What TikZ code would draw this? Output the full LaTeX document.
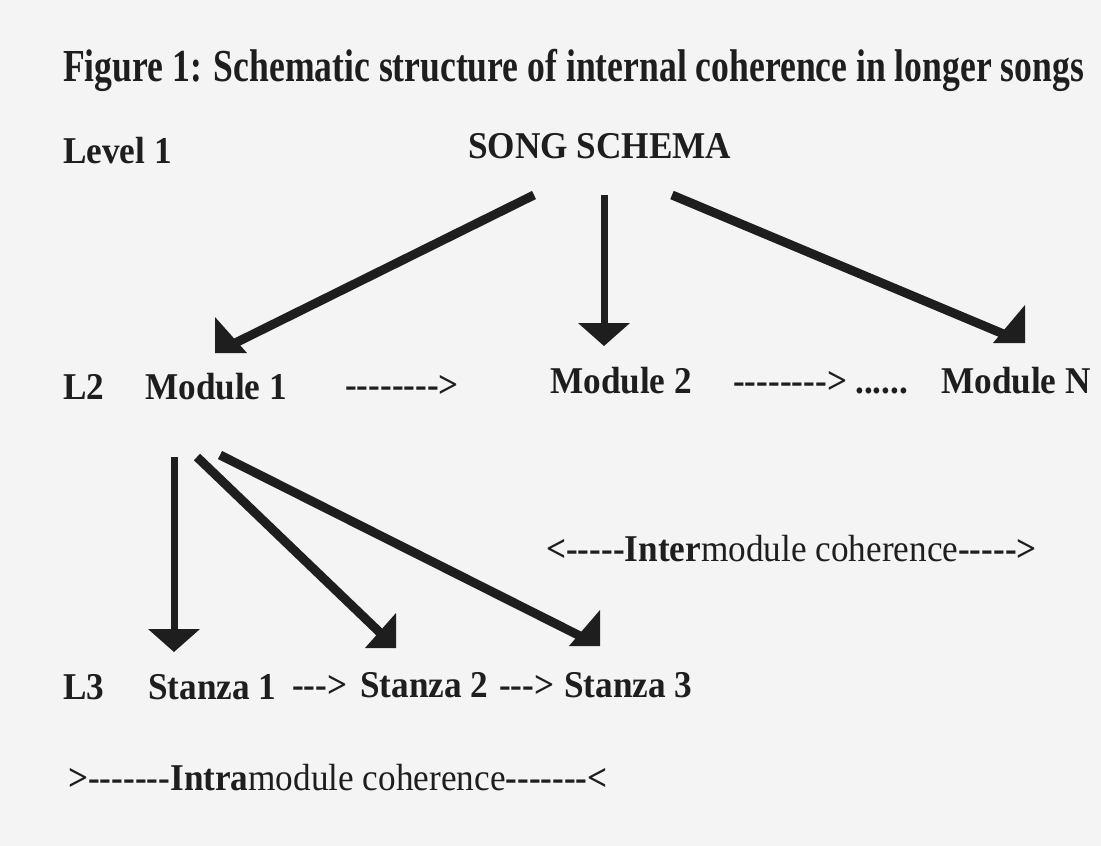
\documentclass[tikz,border=0pt]{standalone}
\usepackage{fontspec}
\setmainfont{Liberation Serif}[FakeStretch=0.93,Ligatures=TeXOff]
\newfontfamily\titlefont{Liberation Serif}[FakeStretch=0.777,Ligatures=TeXOff]
\definecolor{ink}{RGB}{30,30,30}
\definecolor{paper}{RGB}{244,244,244}
\tikzset{
  txt/.style={inner sep=0pt, anchor=base west, text=ink, font=\fontsize{38}{44}\selectfont\bfseries},
  ttl/.style={inner sep=0pt, anchor=base west, text=ink, font=\titlefont\fontsize{46}{52}\selectfont\bfseries},
  conn/.style={draw=ink, line width=9bp, shorten >=15bp},
  vconn/.style={draw=ink, line width=7bp, shorten >=12bp},
  head/.style={fill=ink}
}
\begin{document}
\begin{tikzpicture}[x=1bp,y=-1bp]
\fill[paper] (0,0) rectangle (1101,846);
\useasboundingbox (0,0) rectangle (1101,846);
% texts
\node[ttl] (title) at (63,81) {Figure 1: Schematic structure of internal coherence in longer songs};
\node[txt] (lev1) at (63,163) {Level 1};
\node[txt] (song) at (468,158) {SONG SCHEMA};
\node[txt] (l2) at (63,399) {L2};
\node[txt] (m1) at (145,399) {Module 1};
\node[txt] (d12) at (345,397) {-------->};
\node[txt] (m2) at (550,393) {Module 2};
\node[txt] (d2n) at (733,393) {-------->};
\node[txt] (dots) at (855,393) {......};
\node[txt] (mn) at (941,393) {Module N};
\node[txt] (inter) at (546,561) {<-----Inter{\mdseries module coherence}----->};
\node[txt] (l3) at (63,699) {L3};
\node[txt] (s1) at (148,699) {Stanza 1};
\node[txt] (da) at (292,697) {--->};
\node[txt] (s2) at (360,697) {Stanza 2};
\node[txt] (db) at (499,697) {--->};
\node[txt] (s3) at (564,697) {Stanza 3};
\node[txt] (intra) at (68,790) {>-------Intra{\mdseries module coherence}-------<};
% arrow end points
\coordinate (a1s) at (534,195); \coordinate (a1t) at (215,353);
\coordinate (a2s) at (604,195); \coordinate (a2t) at (604,346);
\coordinate (a3s) at (672,195); \coordinate (a3t) at (1025,343);
\coordinate (b1s) at (174,457); \coordinate (b1t) at (174,652);
\coordinate (b2s) at (197,457); \coordinate (b2t) at (396,648);
\coordinate (b3s) at (220,455); \coordinate (b3t) at (600,646);
% level 1 -> level 2
\draw[conn] (a1s) -- (a1t);
\fill[head] (a1t) -- ++(0,-36) -- ++(32,36) -- cycle;
\draw[vconn] (a2s) -- (a2t);
\fill[head] (a2t) -- ++(-26,-23) -- ++(52,0) -- cycle;
\draw[conn] (a3s) -- (a3t);
\fill[head] (a3t) -- ++(0,-38) -- ++(-32,38) -- cycle;
% level 2 -> level 3
\draw[vconn] (b1s) -- (b1t);
\fill[head] (b1t) -- ++(-26,-23) -- ++(52,0) -- cycle;
\draw[conn] (b2s) -- (b2t);
\fill[head] (b2t) -- ++(0,-35) -- ++(-31,35) -- cycle;
\draw[conn] (b3s) -- (b3t);
\fill[head] (b3t) -- ++(0,-36) -- ++(-31,36) -- cycle;
\end{tikzpicture}
\end{document}
